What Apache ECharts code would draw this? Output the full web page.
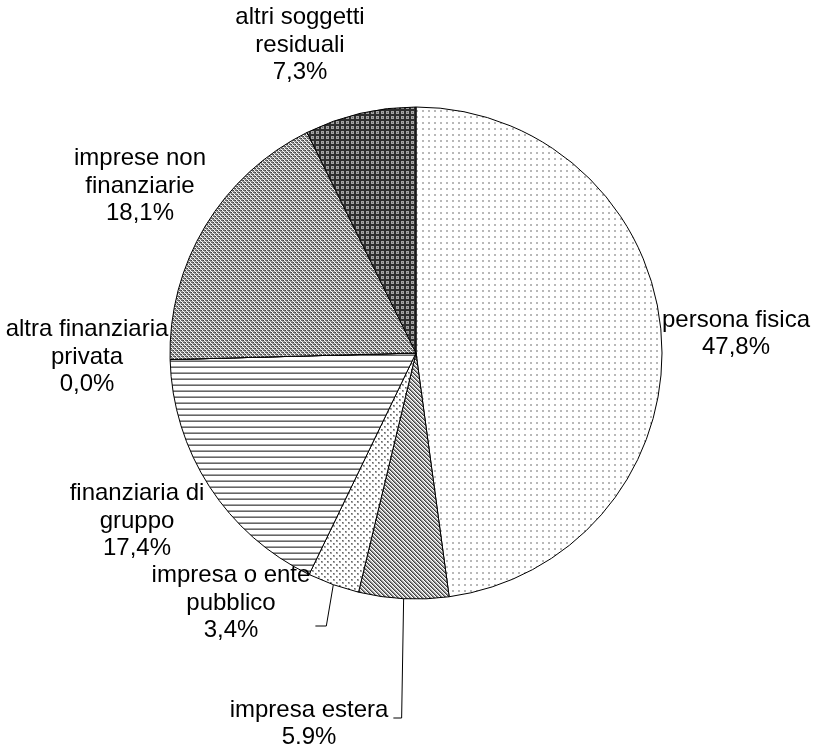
<!DOCTYPE html>
<html>
<head>
<meta charset="utf-8">
<script src="https://cdn.jsdelivr.net/npm/echarts@6/dist/echarts.min.js"></script>
<style>
  html, body { margin: 0; padding: 0; background: #fff; }
  #chart { width: 814px; height: 744px; }
</style>
</head>
<body>
<div id="chart"></div>
<script>
// Categories (clockwise from 12 o'clock) and their shares in percent
var categories = [
  'persona fisica',
  'impresa estera',
  'impresa o ente\npubblico',
  'finanziaria di\ngruppo',
  'altra finanziaria\nprivata',
  'imprese non\nfinanziarie',
  'altri soggetti\nresiduali'
];
var shares = [47.8, 5.9, 3.4, 17.4, 0.0, 18.1, 7.3];

// Builds a repeating fill from a small pixel map; each character picks a colour
function makePattern(rows, palette) {
  var h = rows.length, w = rows[0].length;
  var c = document.createElement('canvas');
  c.width = w; c.height = h;
  var ctx = c.getContext('2d');
  for (var y = 0; y < h; y++) {
    for (var x = 0; x < w; x++) {
      ctx.fillStyle = palette[rows[y][x]];
      ctx.fillRect(x, y, 1, 1);
    }
  }
  return { image: c, repeat: 'repeat' };
}

var pal = { W: '#ffffff', D: '#3e3e3e', G: '#8e8e8e', L: '#b8b8b8', M: '#666666', K: '#2e2e2e', A: '#a4a4a4', S: '#c8c8c8' };

var fills = [
  // light dots
  makePattern(['WWWWWW', 'WWWWWW', 'WWLLWW', 'WWLLWW', 'WWWWWW', 'WWWWWW'], pal),
  // dense diagonal
  makePattern(['DGSW', 'WDGS', 'SWDG', 'GSWD'], pal),
  // sparse staggered dots
  makePattern(['MAWWWW', 'AAWWWW', 'WWWWWW', 'WWWMAW', 'WWWAAW', 'WWWWWW'], pal),
  // horizontal lines
  makePattern(['A', 'M', 'W', 'W', 'W', 'W'], pal),
  // (zero share)
  '#ffffff',
  // grey bricks
  makePattern(['WMMD', 'AWAA', 'MDWM', 'AAAW'], pal),
  // dark grid
  makePattern(['KKKKK', 'KAAAK', 'KAMAK', 'KAAAK', 'KKKKK'], pal)
];

// Label anchors (centre of each text block); leader-line row and slant where drawn
var labelPos = [
  { x: 736, y: 334 },
  { x: 309, y: 724, lineY: 718, dx: -2 },
  { x: 231, y: 603, lineY: 626, dx: -7 },
  { x: 137, y: 521 },
  { x: 87, y: 357 },
  { x: 140, y: 186 },
  { x: 300, y: 45 }
];

var data = categories.map(function (name, i) {
  var item = { name: name, value: shares[i], itemStyle: { color: fills[i] } };
  if (labelPos[i].lineY != null) {
    item.labelLine = { show: true };
  }
  return item;
});

var chart = echarts.init(document.getElementById('chart'), null, { renderer: 'canvas' });

chart.setOption({
  animation: false,
  backgroundColor: '#ffffff',
  series: [{
    type: 'pie',
    center: [416, 353],
    radius: 246,
    startAngle: 90,
    clockwise: true,
    avoidLabelOverlap: false,
    silent: true,
    data: data,
    itemStyle: { borderColor: '#000000', borderWidth: 1 },
    label: {
      show: true,
      position: 'outside',
      fontFamily: 'Liberation Sans, Arial, sans-serif',
      fontSize: 24,
      lineHeight: 27.5,
      color: '#000000',
      align: 'center',
      formatter: function (p) {
        return p.name + '\n' + p.value.toFixed(1).replace('.', ',') + '%';
      }
    },
    labelLine: {
      show: false,
      lineStyle: { color: '#000000', width: 1 }
    },
    labelLayout: function (params) {
      var pos = labelPos[params.dataIndex];
      var out = { x: pos.x, y: pos.y, align: 'center', verticalAlign: 'middle' };
      if (pos.lineY != null && params.labelLinePoints) {
        var p0 = params.labelLinePoints[0];
        var halfW = params.labelRect.width / 2;
        out.labelLinePoints = [
          [p0[0], p0[1]],
          [p0[0] + pos.dx, pos.lineY],
          [pos.x + halfW + 5, pos.lineY]
        ];
      }
      return out;
    }
  }]
});
</script>
</body>
</html>
